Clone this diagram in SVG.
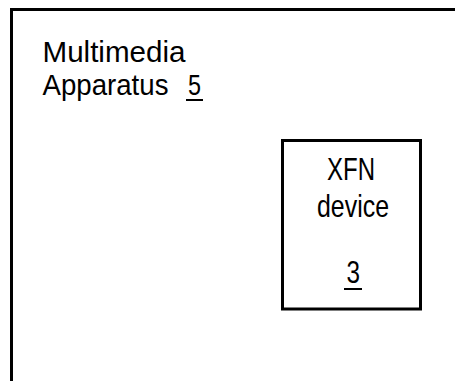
<svg xmlns="http://www.w3.org/2000/svg" width="455" height="381" viewBox="0 0 455 381">
  <style>
    .frame { fill: none; stroke: #000; stroke-width: 3; }
    .label { font-family: "Liberation Sans", Arial, sans-serif; font-size: 32px; fill: #000; }
    .title { font-size: 29.5px; }
    .ul { stroke: #000; stroke-width: 2; }
  </style>
  <rect width="455" height="381" fill="#fff"/>

  <!-- Multimedia apparatus enclosure (continues past the right and bottom edges) -->
  <g id="apparatus">
    <path class="frame" d="M11.5 381 V9.5 H455"/>
    <text class="label title" x="42.5" y="62" textLength="143" lengthAdjust="spacingAndGlyphs">Multimedia</text>
    <text class="label title" x="42.5" y="95" textLength="126" lengthAdjust="spacingAndGlyphs">Apparatus</text>
    <text class="label title" x="188" y="95" textLength="13" lengthAdjust="spacingAndGlyphs">5</text>
    <line class="ul" x1="186" y1="100" x2="203" y2="100"/>
  </g>

  <!-- XFN device -->
  <g id="xfn-device">
    <rect class="frame" x="282.5" y="140.5" width="138" height="168.5"/>
    <text class="label" x="327" y="180" textLength="48" lengthAdjust="spacingAndGlyphs">XFN</text>
    <text class="label" x="317" y="217" textLength="72" lengthAdjust="spacingAndGlyphs">device</text>
    <text class="label" x="346.5" y="283" textLength="13.5" lengthAdjust="spacingAndGlyphs">3</text>
    <line class="ul" x1="344" y1="289" x2="362" y2="289"/>
  </g>

  <g id="connectors"/>
</svg>
